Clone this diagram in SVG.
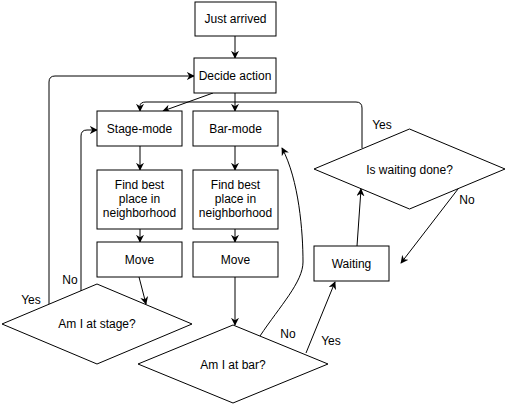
<svg xmlns="http://www.w3.org/2000/svg" width="507" height="407" viewBox="0 0 507 407">
<style>
.n{fill:#fff;stroke:#000;stroke-width:1}
.t{font-family:"Liberation Sans",Arial,sans-serif;font-size:12px;fill:#000;text-anchor:middle;dominant-baseline:central}
.c{fill:none;stroke:#000;stroke-width:1}
</style>
<defs>
<marker id="a" viewBox="0 0 10 10" refX="9" refY="5" markerWidth="8" markerHeight="8" markerUnits="userSpaceOnUse" orient="auto">
<path d="M0,0 L10,5 L0,10 L3,5 Z" fill="#000"/>
</marker>
</defs>
<rect width="507" height="407" fill="#fff"/>
<g id="connectors">
<path class="c" marker-end="url(#a)" d="M235,36 L235,58"/>
<path class="c" marker-end="url(#a)" d="M235,93 L235,111"/>
<path class="c" marker-end="url(#a)" d="M213,93 L163,111"/>
<path class="c" marker-end="url(#a)" d="M362,148 L362,108 Q362,102 356,102 L146,102 Q140,102 140,106 L140,111"/>
<path class="c" marker-end="url(#a)" d="M49,304 L49,82 Q49,76 55,76 L194,76"/>
<path class="c" marker-end="url(#a)" d="M81,292 L81,136 Q81,130 87,130 L97,130"/>
<path class="c" marker-end="url(#a)" d="M140,146 L140,170"/>
<path class="c" marker-end="url(#a)" d="M235,146 L235,170"/>
<path class="c" marker-end="url(#a)" d="M140,229 L140,242"/>
<path class="c" marker-end="url(#a)" d="M235,229 L235,242"/>
<path class="c" marker-end="url(#a)" d="M139,277 L146,304"/>
<path class="c" marker-end="url(#a)" d="M235,277 L235,325"/>
<path class="c" marker-end="url(#a)" d="M260,336 C280,306 303,282 303,262 C303,232 299,180 282,148"/>
<path class="c" marker-end="url(#a)" d="M306,353 L335,282"/>
<path class="c" marker-end="url(#a)" d="M357,246 L361,189"/>
<path class="c" marker-end="url(#a)" d="M458,189 L401,263"/>
<text class="t" x="31" y="300">Yes</text>
<text class="t" x="70" y="280">No</text>
<text class="t" x="288" y="334">No</text>
<text class="t" x="331" y="341">Yes</text>
<text class="t" x="382" y="125">Yes</text>
<text class="t" x="467" y="200">No</text>
</g>
<g id="just-arrived"><rect class="n" x="195" y="2" width="81" height="34"/><text class="t" x="235.5" y="19">Just arrived</text></g>
<g id="decide-action"><rect class="n" x="194" y="58" width="82" height="35"/><text class="t" x="235" y="76">Decide action</text></g>
<g id="stage-mode"><rect class="n" x="97" y="111" width="85" height="35"/><text class="t" x="139.5" y="129">Stage-mode</text></g>
<g id="bar-mode"><rect class="n" x="193" y="111" width="85" height="35"/><text class="t" x="235.5" y="129">Bar-mode</text></g>
<g id="find-stage"><rect class="n" x="97" y="170" width="85" height="59"/><text class="t" x="139.5" y="185">Find best</text><text class="t" x="139.5" y="199">place in</text><text class="t" x="139.5" y="213">neighborhood</text></g>
<g id="find-bar"><rect class="n" x="193" y="170" width="85" height="59"/><text class="t" x="235.5" y="185">Find best</text><text class="t" x="235.5" y="199">place in</text><text class="t" x="235.5" y="213">neighborhood</text></g>
<g id="move-stage"><rect class="n" x="97" y="242" width="85" height="35"/><text class="t" x="139.5" y="260">Move</text></g>
<g id="move-bar"><rect class="n" x="193" y="242" width="85" height="35"/><text class="t" x="235.5" y="260">Move</text></g>
<g id="at-stage"><polygon class="n" points="97,284 192,324 97,364 2,324"/><text class="t" x="97" y="324">Am I at stage?</text></g>
<g id="at-bar"><polygon class="n" points="233,325 328,364 233,403 138,364"/><text class="t" x="233" y="365">Am I at bar?</text></g>
<g id="waiting"><rect class="n" x="314" y="246" width="75" height="35"/><text class="t" x="351.5" y="264">Waiting</text></g>
<g id="waiting-done"><polygon class="n" points="409.5,129 505,169 409.5,209 314,169"/><text class="t" x="409.5" y="170">Is waiting done?</text></g>
</svg>
